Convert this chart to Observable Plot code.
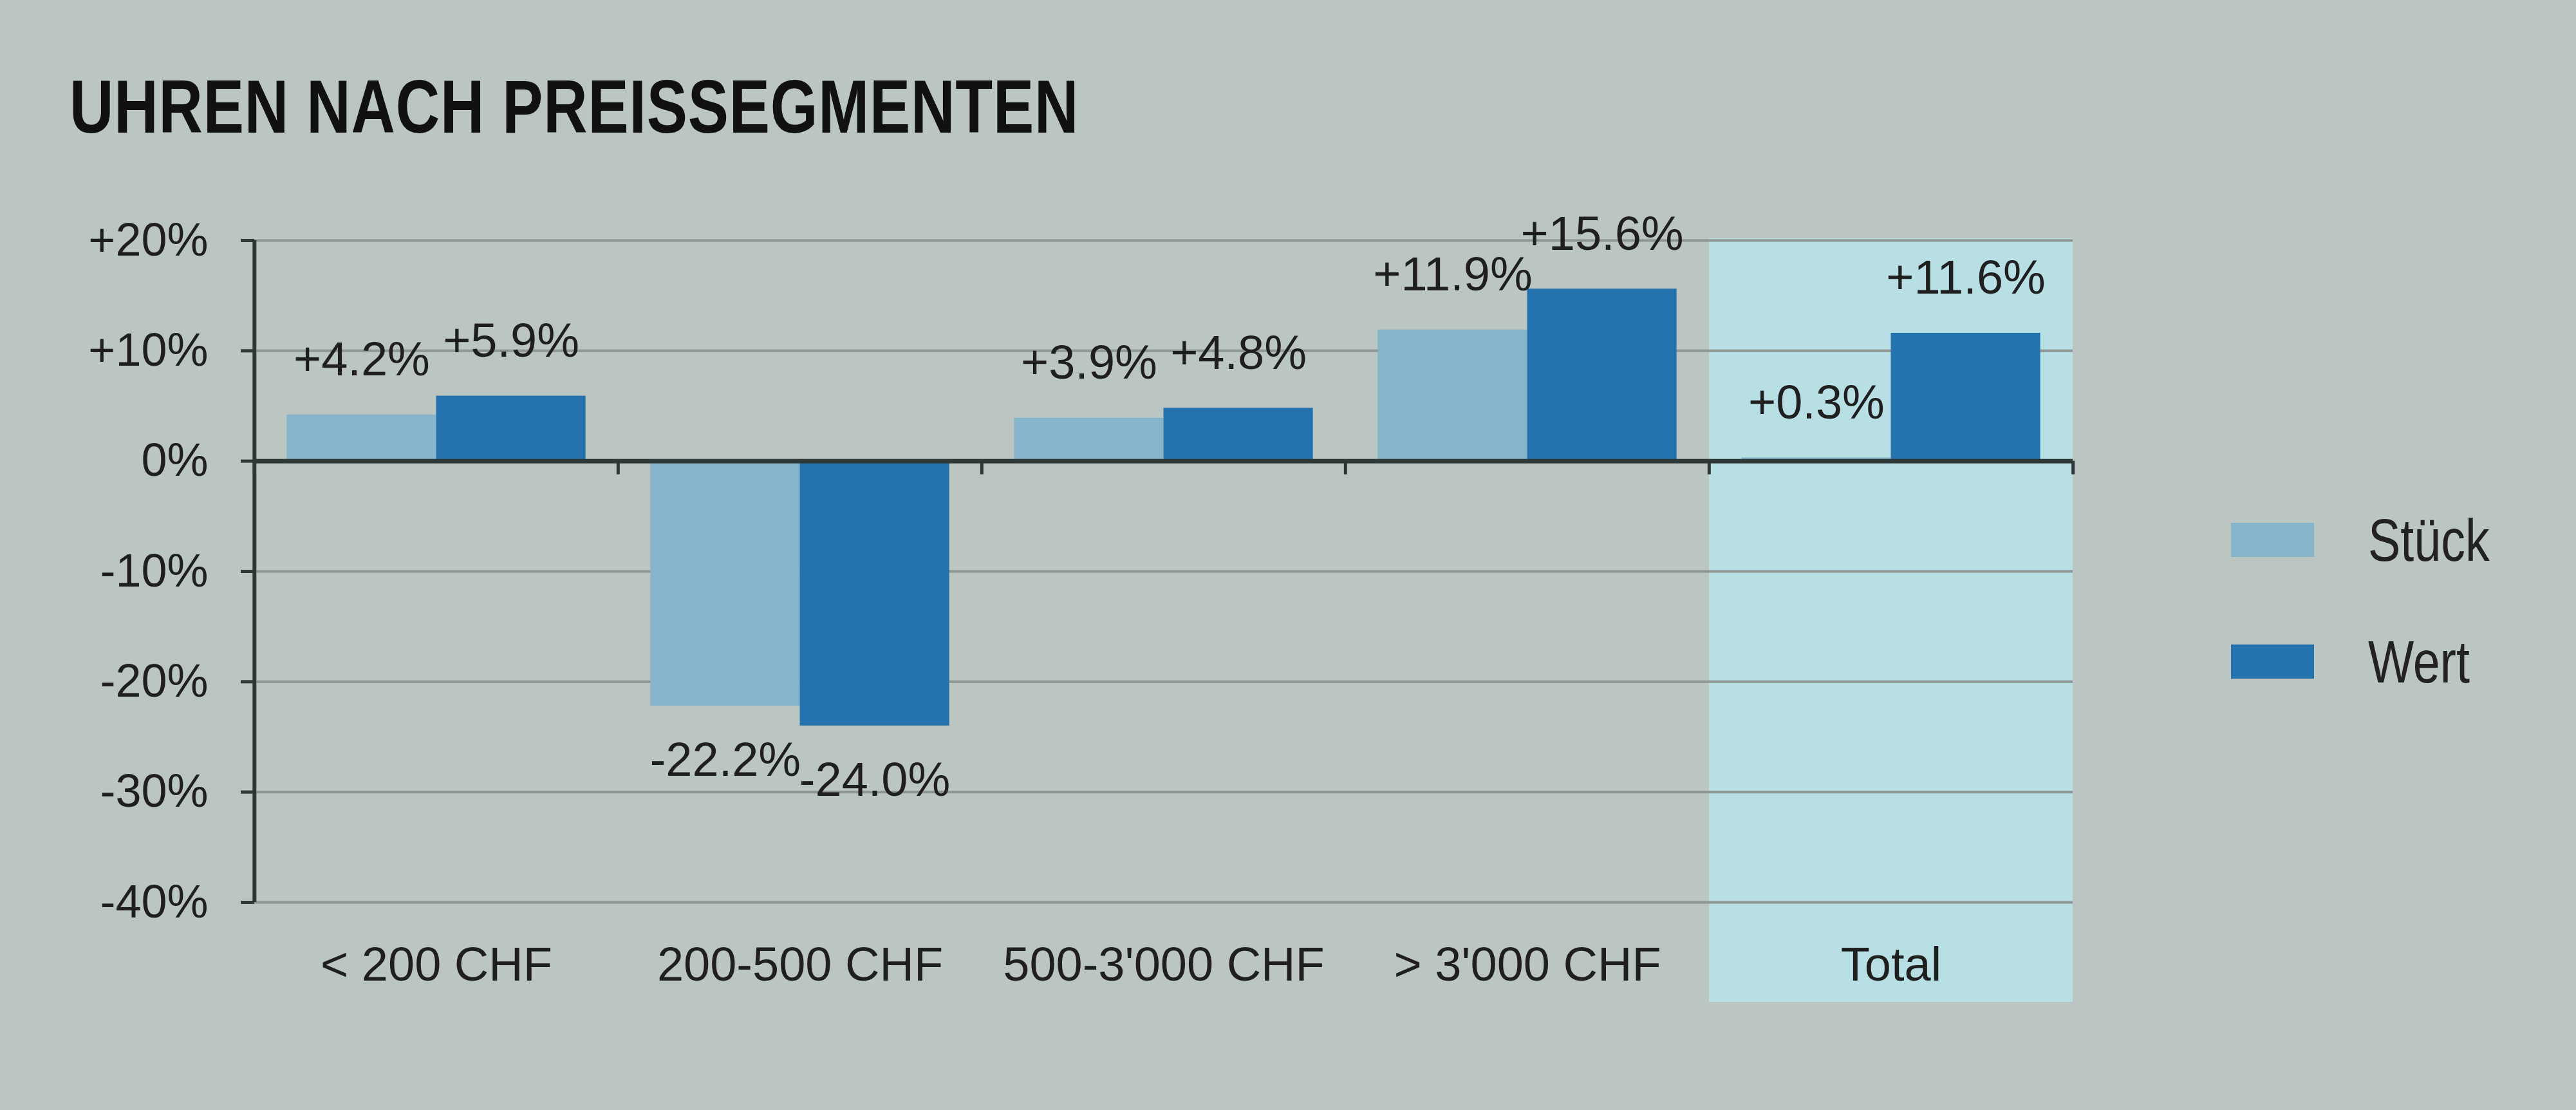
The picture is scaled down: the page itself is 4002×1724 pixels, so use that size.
<!DOCTYPE html>
<html>
<head>
<meta charset="utf-8">
<script src="https://cdn.jsdelivr.net/npm/d3@7"></script>
<script src="https://cdn.jsdelivr.net/npm/@observablehq/plot@0.6"></script>
<style>
  html, body { margin: 0; padding: 0; }
  body { width: 4002px; height: 1724px; background: #bbc5c1; position: relative; overflow: hidden;
         font-family: "Liberation Sans", Arial, sans-serif; color: #1c1c1c; }
  #title { position: absolute; left: 108px; top: 107px; font-size: 117px; line-height: 117px; font-weight: 700;
           color: #111; white-space: nowrap; transform: scaleX(0.81); transform-origin: left top; letter-spacing: 1px; }
  #chart { position: absolute; left: 0; top: 300px; }
  #legend { position: absolute; left: 3466px; top: 812px; display: flex; flex-direction: column; gap: 136px; }
  .row { display: flex; align-items: center; height: 53px; }
  .sw { width: 129px; height: 53px; }
  .lt { margin-left: 84px; font-size: 92px; line-height: 1; color: #222; transform: scaleX(0.82); transform-origin: left center; white-space: nowrap; }
</style>
</head>
<body>
<div id="title">UHREN NACH PREISSEGMENTEN</div>
<div id="chart"></div>
<div id="legend"></div>
<script>
// ---- data ----
const categories = ["< 200 CHF", "200-500 CHF", "500-3'000 CHF", "> 3'000 CHF", "Total"];
const seriesNames = ["Stück", "Wert"];
const stueckValues = [4.2, -22.2, 3.9, 11.9, 0.3];
const wertValues = [5.9, -24.0, 4.8, 15.6, 11.6];
const seriesColors = ["#86b5cb", "#2472ae"];
const yTicks = [20, 10, 0, -10, -20, -30, -40];
const yTickLabels = ["+20%", "+10%", "0%", "-10%", "-20%", "-30%", "-40%"];
const highlightCategory = "Total";

// ---- table ----
const rows = [];
categories.forEach((c, i) => {
  rows.push({cat: c, series: seriesNames[0], value: stueckValues[i]});
  rows.push({cat: c, series: seriesNames[1], value: wertValues[i]});
});
const fmt = v => (v > 0 ? "+" : "") + v.toFixed(1) + "%";
const tickLabel = new Map(yTicks.map((t, i) => [t, yTickLabels[i]]));

// ---- layout ----
const W = 3300, H = 1320;
const mL = 393, mR = 79, mT = 73, mB = 219;
const xPadOuter = 0.217;
const facetW = (W - mL - mR) / categories.length;
const step = facetW / (seriesNames.length + 2 * xPadOuter);
const edgeDx = xPadOuter * step + step / 2;   // from first/last bar centre to facet edge
const dark = "#2e3836";
const font = "Liberation Sans, Arial, sans-serif";

const plot = Plot.plot({
  width: W, height: H,
  marginLeft: mL, marginRight: mR, marginTop: mT, marginBottom: mB,
  style: {background: "transparent", fontFamily: font, color: "#1f1f1f", overflow: "visible"},
  fx: {domain: categories, padding: 0, axis: null},
  x: {domain: seriesNames, paddingInner: 0, paddingOuter: xPadOuter, round: false, axis: null},
  y: {domain: [-40, 20], axis: null},
  color: {domain: seriesNames, range: seriesColors},
  marks: [
    Plot.barY([highlightCategory], {fx: d => d, y1: 20, y2: -40, fill: "#b7dfe4", insetTop: -3, insetBottom: -155}),
    Plot.ruleY(yTicks.filter(d => d !== 0), {stroke: "#8d9692", strokeWidth: 4}),
    Plot.barY(rows, {fx: "cat", x: "series", y: "value", fill: "series"}),
    Plot.ruleY([0], {stroke: dark, strokeWidth: 7}),
    // boundary ticks below zero line
    Plot.ruleX(categories, {fx: d => d, x: () => seriesNames[0], dx: -edgeDx, y1: 0, y2: 0, insetBottom: -21, stroke: dark, strokeWidth: 5}),
    Plot.ruleX([categories[categories.length - 1]], {fx: d => d, x: () => seriesNames[1], dx: edgeDx, y1: 0, y2: 0, insetBottom: -21, stroke: dark, strokeWidth: 5}),
    // y axis line
    Plot.ruleX([categories[0]], {fx: d => d, x: () => seriesNames[0], dx: -edgeDx, y1: 20, y2: -40, stroke: dark, strokeWidth: 6}),
    Plot.axisY({ticks: yTicks, tickFormat: d => tickLabel.get(d), tickSize: 21, tickPadding: 51, fontSize: 72, strokeWidth: 5, stroke: dark, label: null}),
    Plot.axisFx({anchor: "bottom", tickSize: 0, tickPadding: 69, fontSize: 74, label: null}),
    Plot.text(rows.filter(d => d.value >= 0), {fx: "cat", x: "series", y: "value", text: d => fmt(d.value), dy: -85, fontSize: 74, fill: "#1f1f1f"}),
    Plot.text(rows.filter(d => d.value < 0), {fx: "cat", x: "series", y: "value", text: d => fmt(d.value), dy: 85, fontSize: 74, fill: "#1f1f1f"})
  ]
});
document.getElementById("chart").appendChild(plot);

// ---- legend ----
const legend = document.getElementById("legend");
seriesNames.forEach((s, i) => {
  const row = document.createElement("div");
  row.className = "row";
  const sw = document.createElement("div");
  sw.className = "sw";
  sw.style.background = seriesColors[i];
  const t = document.createElement("div");
  t.className = "lt";
  t.textContent = s;
  row.appendChild(sw);
  row.appendChild(t);
  legend.appendChild(row);
});
</script>
</body>
</html>
